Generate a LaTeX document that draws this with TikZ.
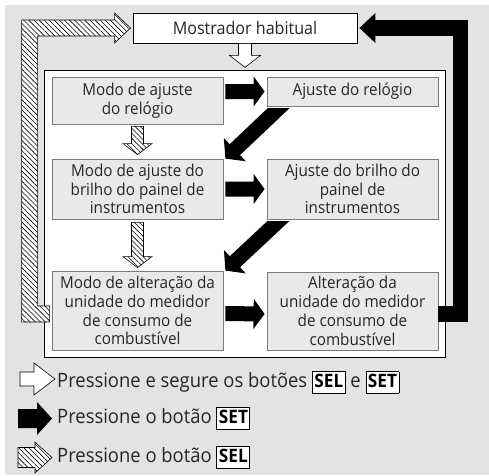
\documentclass[tikz,border=0pt]{standalone}
\usepackage{fontspec}
\setmainfont[FakeStretch=0.93]{Open Sans}
\usetikzlibrary{calc,arrows.meta,patterns.meta}
\definecolor{panel}{HTML}{E3E3E3}
\definecolor{boxfill}{HTML}{E9E9E9}
\definecolor{boxline}{HTML}{7A7A7A}
\definecolor{ink}{HTML}{262626}
\tikzstyle{whitebox}=[draw=black, fill=white, line width=0.8pt, inner sep=0pt, text=ink]
\tikzstyle{modebox}=[draw=boxline, fill=boxfill, line width=0.8pt, minimum width=171pt, inner sep=0pt, align=center, text=ink, font=\fontsize{16.4}{18.8}\selectfont]
\tikzstyle{legend}=[anchor=base west, inner sep=0pt, text=ink, font=\fontsize{19.8}{22}\selectfont]
\tikzstyle{holdarrow}=[draw=black, line width=0.6pt, fill=white, line join=miter]
\tikzstyle{setarrow}=[fill=black]
\tikzstyle{selarrow}=[draw=black, line width=0.6pt, line join=miter, preaction={fill=white}, pattern={Lines[angle=-45,distance=3.6pt,line width=0.6pt]}]
\newcommand{\keycap}[1]{{\setlength{\fboxsep}{1.5pt}\setlength{\fboxrule}{0.9pt}\fcolorbox{black}{white}{\fontsize{18.5}{18.5}\selectfont\bfseries\color{black}\vphantom{Ag}#1}}}
% style, from, to, half shaft, half head, head length
\newcommand{\blockarrow}[6]{
  \coordinate (ba-s) at #2;
  \coordinate (ba-e) at #3;
  \coordinate (ba-h) at ($(ba-e)!#6!(ba-s)$);
  \path[#1] ($(ba-s)!#4!90:(ba-e)$) -- ($(ba-h)!#4!-90:(ba-s)$) -- ($(ba-h)!#5!-90:(ba-s)$)
    -- (ba-e) -- ($(ba-h)!#5!90:(ba-s)$) -- ($(ba-h)!#4!90:(ba-s)$) -- ($(ba-s)!#4!-90:(ba-e)$) -- cycle;
}

\begin{document}
\begin{tikzpicture}[x=1pt, y=1pt]
\useasboundingbox (0,0) rectangle (489,-475);
\fill[panel] (5,-5) rectangle (489,-475);

\node[whitebox, minimum width=401pt, minimum height=287pt] (frame) at (244.5,-213.5) {};
\node[whitebox, minimum width=224pt, minimum height=30pt, font=\fontsize{17.3}{19}\selectfont] (top) at (245,-28) {Mostrador habitual};

\node[modebox, minimum height=47pt] (l1) at (137.5,-100.5) {Modo de ajuste\\do relógio};
\node[modebox, minimum height=29pt] (r1) at (352.5,-91.5) {Ajuste do relógio};
\node[modebox, minimum height=60pt] (l2) at (137.5,-189) {Modo de ajuste do\\brilho do painel de\\instrumentos};
\node[modebox, minimum height=60pt] (r2) at (352.5,-189) {Ajuste do brilho do\\painel de\\instrumentos};
\node[modebox, minimum height=79pt] (l3) at (137.5,-310.5) {Modo de alteração da\\unidade do medidor\\de consumo de\\combustível};
\node[modebox, minimum height=78pt] (r3) at (352.5,-311) {Alteração da\\unidade do medidor\\de consumo de\\combustível};

\blockarrow{holdarrow}{(top.south)}{($(top.south)+(0,-24)$)}{6.5pt}{15.5pt}{12pt}

\blockarrow{setarrow}{($(l1.east |- r1.west)+(2,0)$)}{($(r1.west)+(-2,0)$)}{7.5pt}{15pt}{11pt}
\blockarrow{setarrow}{($(l2.east)+(2,0)$)}{($(r2.west)+(-2,0)$)}{7.5pt}{15pt}{11pt}
\blockarrow{setarrow}{($(l3.east)+(2,-3)$)}{($(r3.west)+(-2,-3)$)}{7.5pt}{15pt}{11pt}

\begin{scope}
\clip ($(r1.south west)+(-60,-2)$) rectangle ($(r1.south east)+(0,-60)$);
\blockarrow{setarrow}{($(r1.south west)+(36,21)$)}{($(l2.north east)+(2,0)$)}{7.5pt}{16pt}{13pt}
\end{scope}
\begin{scope}
\clip ($(r2.south west)+(-60,-2)$) rectangle ($(r2.south east)+(0,-60)$);
\blockarrow{setarrow}{($(r2.south west)+(36,21)$)}{($(l3.north east)+(2,0)$)}{7.5pt}{16pt}{13pt}
\end{scope}

\blockarrow{selarrow}{($(l1.south)+(0,-2)$)}{($(l2.north)+(0,4)$)}{6pt}{14.5pt}{11pt}
\blockarrow{selarrow}{($(l2.south)+(0,-3)$)}{($(l3.north)+(0,3)$)}{6pt}{14.5pt}{11pt}

\draw[line width=15.5pt, line join=miter, -{Triangle[length=16pt,width=29pt]}]
  ($(r3.east)+(0,-3)$) -- ++(22,0) |- ($(top.east)+(2,0)$);

\coordinate (selfrom) at ($(l3.west)+(-2,-3.5)$);
\coordinate (selto) at ($(top.west)+(-2,0)$);
\path[selarrow] ($(selfrom)+(0,-8)$) -| ($(selto)+(-109,8)$) -- ($(selto)+(-16,8)$) -- ++(0,7)
  -- (selto) -- ($(selto)+(-16,-15)$) -- ++(0,7) -| ($(selfrom)+(-12,8)$) -- ($(selfrom)+(0,8)$) -- cycle;

\node[legend] (lghold) at (57,-387) {Pressione e segure os botões \keycap{SEL} e \keycap{SET}};
\node[legend] (lgset) at (57,-423) {Pressione o botão \keycap{SET}};
\node[legend] (lgsel) at (57,-462) {Pressione o botão \keycap{SEL}};
\blockarrow{holdarrow}{($(lghold.base west)+(-37,8)$)}{($(lghold.base west)+(-2,8)$)}{7pt}{16pt}{21pt}
\blockarrow{setarrow}{($(lgset.base west)+(-39,4.5)$)}{($(lgset.base west)+(-5,4.5)$)}{9.5pt}{16.5pt}{15pt}
\blockarrow{selarrow}{($(lgsel.base west)+(-39,4.5)$)}{($(lgsel.base west)+(-5,4.5)$)}{10pt}{15.5pt}{17pt}
\end{tikzpicture}
\end{document}
